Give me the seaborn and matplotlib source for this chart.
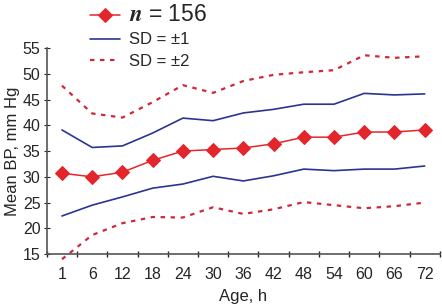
import numpy as np
import pandas as pd
import matplotlib
matplotlib.use('Agg')
import matplotlib.pyplot as plt
import seaborn as sns

# Data
ages = ['1', '6', '12', '18', '24', '30', '36', '42', '48', '54', '60', '66', '72']
mean_bp = [30.7, 30.0, 30.9, 33.2, 35.0, 35.3, 35.6, 36.4, 37.7, 37.7, 38.7, 38.7, 39.1]
sd1_upper = [39.1, 35.7, 36.0, 38.5, 41.4, 40.9, 42.4, 43.1, 44.1, 44.1, 46.2, 45.9, 46.1]
sd1_lower = [22.4, 24.5, 26.1, 27.8, 28.6, 30.1, 29.2, 30.2, 31.5, 31.2, 31.5, 31.5, 32.1]
sd2_upper = [47.7, 42.3, 41.5, 44.5, 47.8, 46.3, 48.6, 49.8, 50.3, 50.7, 53.6, 53.1, 53.4]
sd2_lower = [14.0, 18.7, 21.0, 22.2, 22.1, 24.1, 22.8, 23.7, 25.1, 24.5, 23.9, 24.3, 25.0]

sns.set_style('ticks')
plt.rcParams['font.family'] = ['Liberation Sans', 'DejaVu Sans']
plt.rcParams['mathtext.fontset'] = 'stix'

RED = '#e3262c'
BLUE = '#2b3590'
DRED = '#cc2a3c'

df = pd.DataFrame({'pos': np.arange(len(ages)), 'mean': mean_bp,
                   'sd1u': sd1_upper, 'sd1l': sd1_lower,
                   'sd2u': sd2_upper, 'sd2l': sd2_lower})

fig = plt.figure(figsize=(4.42, 3.08), dpi=100)
ax = fig.add_axes([0.106, 0.175, 0.889, 0.669])

sns.lineplot(data=df, x='pos', y='sd2u', ax=ax, color=DRED, lw=1.6,
             linestyle=(0, (2, 2.5)), label='SD = \u00b12', clip_on=False)
sns.lineplot(data=df, x='pos', y='sd2l', ax=ax, color=DRED, lw=1.6,
             linestyle=(0, (2, 2.5)), clip_on=False)
sns.lineplot(data=df, x='pos', y='sd1u', ax=ax, color=BLUE, lw=1.2,
             label='SD = \u00b11')
sns.lineplot(data=df, x='pos', y='sd1l', ax=ax, color=BLUE, lw=1.2)
sns.lineplot(data=df, x='pos', y='mean', ax=ax, color=RED, lw=1.1,
             marker='D', markersize=7, markeredgecolor=RED,
             label=r'$\boldsymbol{n}$ = 156')

ax.set_ylim(15, 55)
ax.set_yticks(range(15, 56, 5))
ax.set_xlim(-0.5, len(ages) - 0.5)
ax.set_xticks(np.arange(len(ages)))
ax.set_xticklabels(ages)
ax.set_xticks(np.arange(-0.5, len(ages), 1), minor=True)
ax.tick_params(axis='x', which='major', length=0, pad=9, labelsize=11.5)
ax.tick_params(axis='x', which='minor', length=5, direction='inout', width=1)
ax.tick_params(axis='y', length=5, direction='inout', labelsize=11.5, pad=2)
for s in ['left', 'bottom']:
    ax.spines[s].set_color('#555555')
    ax.spines[s].set_linewidth(1.2)
sns.despine(ax=ax)

ax.set_xlabel('Age, h', fontsize=12, labelpad=5)
ax.set_ylabel('Mean BP, mm Hg', fontsize=12, labelpad=2)

handles, labels = ax.get_legend_handles_labels()
ax.get_legend().remove()
order = [2, 1, 0]
leg = fig.legend([handles[i] for i in order], [labels[i] for i in order],
                 loc='upper left', bbox_to_anchor=(0.17, 1.04), frameon=False,
                 fontsize=12, handlelength=1.8, labelspacing=0.4,
                 handletextpad=0.55)
leg.get_texts()[0].set_fontsize(16.5)

fig.savefig('out.png', dpi=100)
